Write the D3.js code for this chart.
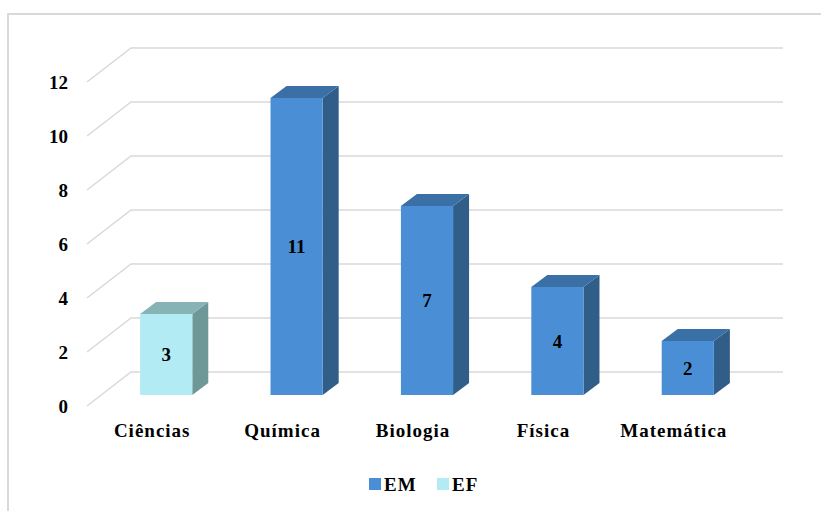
<!DOCTYPE html>
<html>
<head>
<meta charset="utf-8">
<script src="https://cdn.jsdelivr.net/npm/d3@7"></script>
<style>
  body { margin: 0; background: #fff; }
</style>
</head>
<body>
<div id="chart"></div>
<script>
let categories = ['Ciências', 'Química', 'Biologia', 'Física', 'Matemática'];
let seriesNames = ['EM', 'EF'];
let valuesEM = [null, 11, 7, 4, 2];
let valuesEF = [3, null, null, null, null];
let yTicks = [0, 2, 4, 6, 8, 10, 12];

let width = 821, height = 511;
let fontFamily = "'Liberation Serif'";
let colors = {
    EM: { front: '#4a8fd5', top: '#3a70a6', side: '#315d89' },
    EF: { front: '#b2ebf4', top: '#85b3b6', side: '#6e9798' }
};

// 3d offsets: back wall and bar planes relative to front floor
let wallDx = 44, wallDy = -34;
let barDx = 14, barDy = -11, barDepthX = 16, barDepthY = -12;

let svg = d3.select('#chart').append('svg')
    .attr('width', width)
    .attr('height', height);

function label(sel, size) {
    return sel.attr('font-family', fontFamily)
        .attr('font-weight', 'bold')
        .attr('font-size', size)
        .attr('fill', '#000');
}

// chart frame
svg.append('rect')
    .attr('x', 8).attr('y', 14)
    .attr('width', 830).attr('height', 520)
    .attr('fill', 'none')
    .attr('stroke', '#d9d9d9')
    .attr('stroke-width', 2);

let x = d3.scaleBand()
    .domain(categories)
    .range([87, 739])
    .paddingInner(0.6)
    .paddingOuter(0.3);

let y = d3.scaleLinear()
    .domain([0, 12])
    .range([406, 82]);

// gridlines: back wall + left side diagonal
let grid = svg.append('g').attr('stroke', '#d9d9d9').attr('stroke-width', 1.5).attr('fill', 'none');
yTicks.forEach(function(t){
    grid.append('path')
        .attr('d', 'M' + 87 + ',' + y(t) +
                   'L' + (87 + wallDx) + ',' + (y(t) + wallDy) +
                   'L' + (739 + wallDx) + ',' + (y(t) + wallDy));
});

// y labels
svg.append('g').selectAll('text')
    .data(yTicks)
    .enter().append('text')
    .attr('x', 68)
    .attr('y', d => y(d))
    .attr('dy', '0.35em')
    .attr('text-anchor', 'end')
    .call(label, 19)
    .text(d => d);

// bars
let bars = [];
categories.forEach(function(c, i){
    if (valuesEM[i] != null) bars.push({cat: c, val: valuesEM[i], s: 'EM'});
    if (valuesEF[i] != null) bars.push({cat: c, val: valuesEF[i], s: 'EF'});
});

let bg = svg.append('g');
bars.forEach(function(b){
    let x0 = x(b.cat) + barDx, x1 = x0 + x.bandwidth();
    let yb = y(0) + barDy, yt = y(b.val) + barDy;
    let col = colors[b.s];
    let g = bg.append('g');
    // side
    g.append('path')
        .attr('d', 'M' + x1 + ',' + yb + 'L' + (x1 + barDepthX) + ',' + (yb + barDepthY) +
                   'L' + (x1 + barDepthX) + ',' + (yt + barDepthY) + 'L' + x1 + ',' + yt + 'Z')
        .attr('fill', col.side);
    // top
    g.append('path')
        .attr('d', 'M' + x0 + ',' + yt + 'L' + (x0 + barDepthX) + ',' + (yt + barDepthY) +
                   'L' + (x1 + barDepthX) + ',' + (yt + barDepthY) + 'L' + x1 + ',' + yt + 'Z')
        .attr('fill', col.top);
    // front
    g.append('rect')
        .attr('x', x0).attr('y', yt)
        .attr('width', x.bandwidth()).attr('height', yb - yt)
        .attr('fill', col.front);
    g.append('text')
        .attr('x', (x0 + x1) / 2)
        .attr('y', (yb + yt) / 2)
        .attr('dy', '0.35em')
        .attr('text-anchor', 'middle')
        .call(label, 19)
        .text(b.val);
});

// category labels
svg.append('g').selectAll('text')
    .data(categories)
    .enter().append('text')
    .attr('x', d => x(d) + x.bandwidth() / 2)
    .attr('y', 437)
    .attr('text-anchor', 'middle')
    .call(label, 19)
    .attr('letter-spacing', 1)
    .text(d => d);

// legend
let lx = [369, 437];
let legend = svg.append('g');
seriesNames.forEach(function(s, i){
    legend.append('rect')
        .attr('x', lx[i]).attr('y', 478)
        .attr('width', 12).attr('height', 12)
        .attr('fill', colors[s].front);
    legend.append('text')
        .attr('x', lx[i] + 15).attr('y', 491)
        .call(label, 19)
        .attr('letter-spacing', 1)
        .text(s);
});
</script>
</body>
</html>
